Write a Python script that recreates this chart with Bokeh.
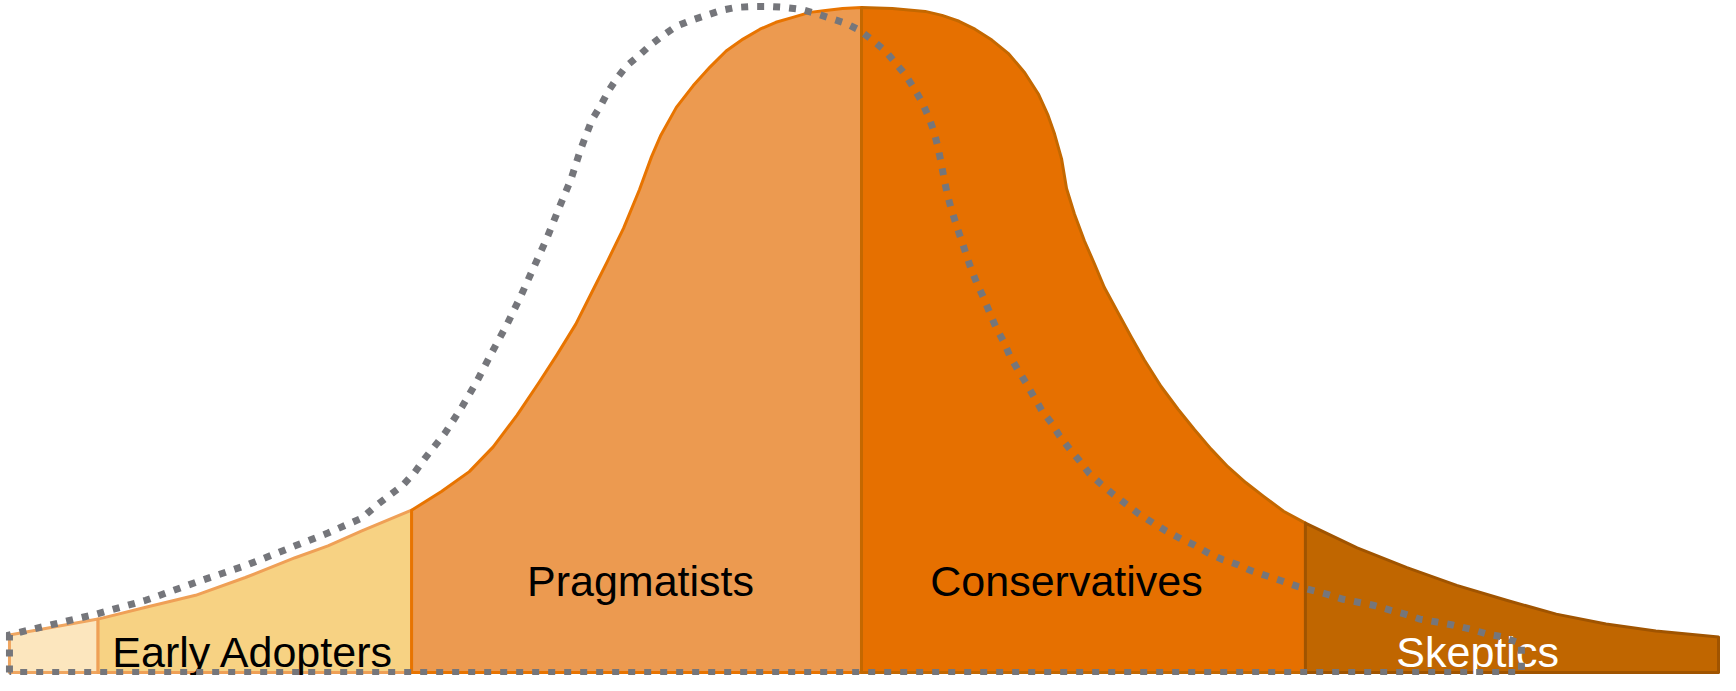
from bokeh.plotting import figure
from bokeh.models import Range1d
from bokeh.embed import file_html
from bokeh.resources import INLINE
from bokeh.core.properties import value

# ---- data (x = position along the adoption timeline,
#      h = relative number of adopters, same arbitrary units) ----
curve_x = [13, 102, 150, 200, 250, 300, 333, 367, 417, 447, 475, 499, 523, 545,
           563, 582, 598, 614, 630, 646, 658, 667, 683, 700, 717, 733, 750, 767,
           783, 800, 817, 833, 850, 869, 900, 933, 950, 967, 983, 1000, 1017,
           1033, 1047, 1056, 1063, 1070, 1075, 1083, 1093, 1103, 1113, 1127,
           1140, 1153, 1170, 1187, 1203, 1220, 1237, 1255, 1273, 1293, 1315,
           1367, 1417, 1467, 1517, 1567, 1617, 1667, 1730]
curve_h = [38, 54, 66, 78, 96, 116, 128, 143, 164, 183, 203, 228, 260, 293,
           321, 352, 384, 416, 449, 488, 521, 542, 571, 593, 612, 628, 640, 650,
           657, 662, 667, 669, 671, 672, 671, 668, 664, 658, 650, 639, 625,
           606, 584, 564, 544, 519, 489, 463, 436, 413, 389, 363,
           339, 316, 289, 266, 246, 226, 208, 192, 178, 163, 151,
           126, 106, 88, 73, 59, 49, 42, 36]

# shifted (earlier) adoption curve, dotted closed outline
shift_x = [13, 13, 33, 100, 150, 200, 250, 300, 333, 367, 383, 408, 420, 430,
           450, 468, 483, 498, 513, 527, 540, 553, 565, 577, 587, 598, 607, 615,
           623, 633, 645, 657, 670, 683, 698, 713, 728, 743, 760, 777, 792, 808,
           823, 838, 853, 867, 880, 893, 903, 913, 922, 930, 937, 942, 946, 949,
           952, 955, 959, 964, 969, 974, 979, 985, 992, 998, 1004, 1012, 1018,
           1026, 1034, 1042, 1050, 1060, 1068, 1078, 1088, 1098, 1110, 1122,
           1135, 1148, 1162, 1175, 1190, 1203, 1217, 1232, 1247, 1260, 1275,
           1290, 1307, 1322, 1337, 1353, 1368, 1383, 1400, 1415, 1430, 1447,
           1463, 1480, 1497, 1513, 1532, 1532, 13]
shift_h = [0, 38, 43, 59, 73, 91, 108, 128, 141, 156, 170, 189, 202, 216,
           241, 269, 295, 324, 352, 381, 410, 439, 469, 498, 529, 558, 573, 588,
           600, 613, 623, 634, 644, 653, 659, 664, 669, 672, 673, 673, 672, 670,
           666, 661, 656, 649, 639, 628, 616, 604, 590, 576, 560, 546, 530, 515,
           499, 484, 469, 453, 438, 423, 408, 393, 378, 363, 349, 334, 320,
           306, 293, 279, 265, 252, 239, 226, 214, 201, 190, 180,
           170, 160, 151, 143, 135, 129, 121, 114, 109, 103, 98,
           93, 87, 83, 79, 74, 71, 68, 63, 59, 54, 51,
           48, 44, 39, 36, 29, 0, 0]

segments = ["Innovators", "Early Adopters", "Pragmatists", "Conservatives", "Skeptics"]
boundaries = [13, 102, 417, 869, 1315, 1730]
fill_colors = ["#FCE6BE", "#F7D283", "#EC9A50", "#E67000", "#C06600"]
line_colors = ["#F0A660", "#EFA056", "#E87400", "#C46800", "#A05400"]

label_text = ["Early Adopters", "Pragmatists", "Conservatives", "Skeptics"]
label_x = [258, 647, 1075, 1488]
label_h = [21, 92, 92, 21]
label_colors = ["#000000", "#000000", "#000000", "#FFFFFF"]

# ---- figure ----
p = figure(width=1720, height=675, output_backend="svg", toolbar_location=None,
           x_range=Range1d(4, 1732), y_range=Range1d(-3, 679),
           min_border=0, min_border_left=0, min_border_right=0,
           min_border_top=0, min_border_bottom=0)
p.axis.visible = False
p.grid.visible = False
p.outline_line_color = None
p.background_fill_color = "white"
p.border_fill_color = "white"

for i, name in enumerate(segments):
    a, b = boundaries[i], boundaries[i + 1]
    xs = [a]
    hs = [0]
    for x, h in zip(curve_x, curve_h):
        if a <= x <= b:
            xs.append(x)
            hs.append(h)
    xs.append(b)
    hs.append(0)
    p.patch(xs, hs, fill_color=fill_colors[i], line_color=line_colors[i],
            line_width=3, line_join="round")

p.text(x=label_x, y=label_h, text=label_text, text_color=label_colors,
       text_font=value("Liberation Sans"), text_font_size="43px",
       text_align="center", text_baseline="alphabetic")

p.line(shift_x, shift_h, line_color="#75767B", line_width=7,
       line_dash="7 9", line_cap="butt", line_join="miter")

open("out.html", "w").write(file_html(p, INLINE))
